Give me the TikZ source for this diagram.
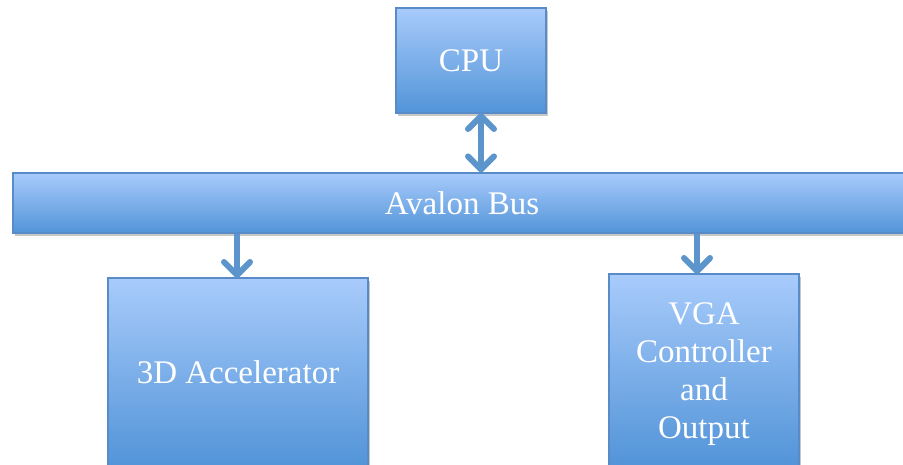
\documentclass[tikz,border=0pt]{standalone}
\usepackage{fontspec}
\setmainfont{Liberation Serif}
\usetikzlibrary{arrows.meta,shadows}
\definecolor{boxtop}{RGB}{168,203,251}
\definecolor{boxbot}{RGB}{82,148,216}
\definecolor{boxedge}{RGB}{88,140,200}
\definecolor{arrowblue}{RGB}{92,148,204}
\tikzset{
  block/.style={rectangle, inner sep=0pt, draw=boxedge, line width=1.2pt,
    top color=boxtop, bottom color=boxbot, text=white, align=center,
    font=\fontsize{33}{38}\selectfont,
    drop shadow={shadow xshift=1.5pt, shadow yshift=-3pt, fill=black, opacity=0.22}},
  link/.style={draw=arrowblue, line width=6pt, -{Straight Barb[length=13pt,width=26pt,round]}},
  dlink/.style={draw=arrowblue, line width=6pt,
    {Straight Barb[length=13pt,width=26pt,round]}-{Straight Barb[length=13pt,width=26pt,round]}}
}
\begin{document}
\begin{tikzpicture}[x=1pt,y=-1pt]
  \clip (0,0) rectangle (903,464);
  \useasboundingbox (0,0) rectangle (903,464);
  \fill[white] (0,0) rectangle (903,464);

  % blocks
  \node[block, minimum width=150pt, minimum height=105pt] (cpu) at (471,60.5) {CPU};
  \node[block, minimum width=898pt, minimum height=60pt] (bus) at (462,203) {Avalon Bus};
  \node[block, minimum width=260pt, minimum height=188pt] (acc) at (238,372) {3D Accelerator};
  \node[block, minimum width=190pt, minimum height=192pt] (vga) at (704,370) {};
  \node[text=white, align=center, font=\fontsize{33}{38}\selectfont, inner sep=0pt]
    (vgalabel) at ([yshift=-4pt]vga.center) {VGA\\Controller\\and\\Output};

  % bus connection points
  \coordinate (cpuport) at (481,113);
  \coordinate (accport) at (237,278);
  \coordinate (vgaport) at (697,274);

  \draw[dlink] (cpuport) -- (cpuport |- bus.north);
  \draw[link] (accport |- bus.south) -- (accport);
  \draw[link] (vgaport |- bus.south) -- (vgaport);
\end{tikzpicture}
\end{document}
